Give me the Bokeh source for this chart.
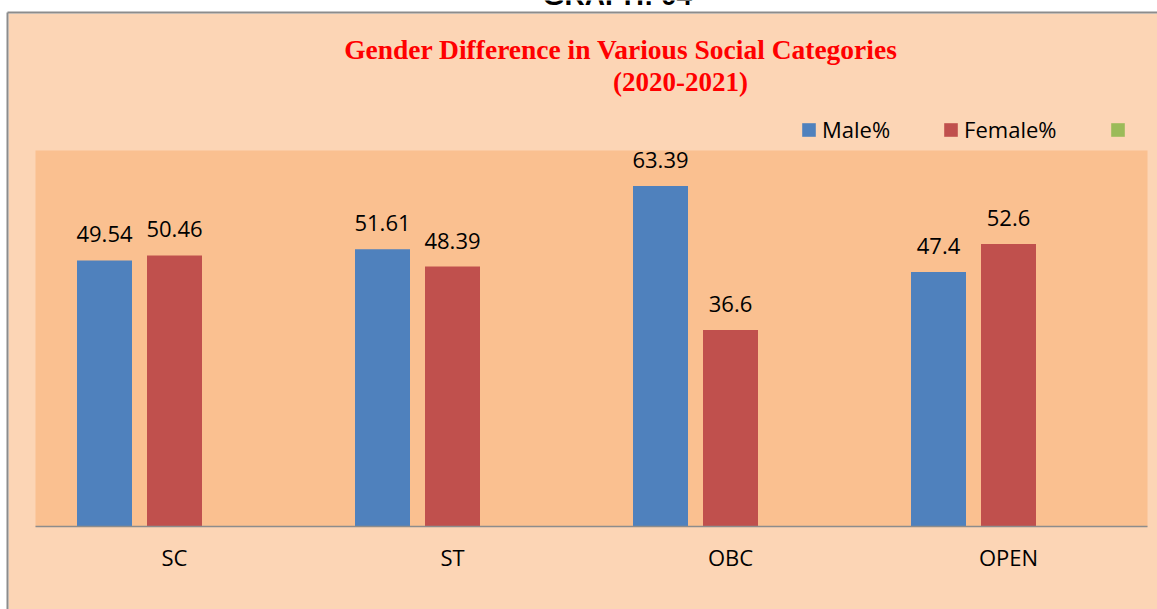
from bokeh.plotting import figure
from bokeh.models import (ColumnDataSource, Range1d, FixedTicker, LabelSet, Label,
                          Legend, LegendItem)
from bokeh.core.properties import value
from bokeh.embed import file_html
from bokeh.resources import INLINE

nan = float("nan")

# ---------------- data ----------------
categories = ["SC", "ST", "OBC", "OPEN"]
male_pct = [49.54, 51.61, 63.39, 47.4]
female_pct = [50.46, 48.39, 36.6, 52.6]
third_pct = [nan, nan, nan, nan]     # empty third series (shown only in legend)
series_names = ["Male%", "Female%", " "]
y_max = 70

# ---------------- layout (px, page coordinates) ----------------
FIG_W, FIG_H = 1157, 609
PX_PER_CAT = 278.0
INNER_LEFT_PX, INNER_RIGHT_PX = 35.0, 1147.0
ZERO_PX, TOP_PX = 526.0, 150.0
CHART_LEFT_PX, CHART_TOP_PX = 8.0, 13.0      # outer (peach) chart area
PX_PER_UNIT = (ZERO_PX - TOP_PX) / y_max

n = len(categories)
def px_to_x(px):
    return -0.5 + (px - INNER_LEFT_PX) / PX_PER_CAT
def px_to_y(py):
    return (ZERO_PX - py) / PX_PER_UNIT

x_start, x_end = px_to_x(0), px_to_x(FIG_W)
y_start, y_end = px_to_y(FIG_H), px_to_y(0)

BLUE, RED, GREEN = "#4F81BD", "#C0504D", "#9BBB59"
OUTER, INNER = "#FCD5B5", "#FAC090"
FONT = "Open Sans"

p = figure(width=FIG_W, height=FIG_H, x_range=Range1d(x_start, x_end),
           y_range=Range1d(y_start, y_end), y_axis_location=None,
           toolbar_location=None, output_backend="svg", title=None,
           min_border_left=0, min_border_right=0,
           min_border_top=0, min_border_bottom=0,
           background_fill_color="white", border_fill_color="white",
           outline_line_color=None)
p.xgrid.visible = False
p.ygrid.visible = False

# outer chart area + border
cl, ct = px_to_x(CHART_LEFT_PX), px_to_y(CHART_TOP_PX)
p.quad(left=[cl], right=[x_end], bottom=[y_start], top=[ct],
       fill_color=OUTER, line_color=None)
bx, by = px_to_x(CHART_LEFT_PX - 1), px_to_y(CHART_TOP_PX - 1)
p.segment(x0=[bx, bx], y0=[y_start, by], x1=[bx, x_end], y1=[by, by],
          line_color="#8c8c8c", line_width=2)

# inner plot area
p.quad(left=[-0.5], right=[n - 0.5], bottom=[0], top=[y_max],
       fill_color=INNER, line_color=None)

# bars
idx = list(range(n))
offset = 70.0 / PX_PER_CAT
bw = 55.0 / PX_PER_CAT
male_src = ColumnDataSource(dict(x=[i - offset for i in idx], top=male_pct,
                                 lbl=[str(v) for v in male_pct]))
fem_src = ColumnDataSource(dict(x=[i for i in idx], top=female_pct,
                                lbl=[str(v) for v in female_pct]))
third_src = ColumnDataSource(dict(x=[i + offset for i in idx], top=third_pct))

r_m = p.vbar(x="x", top="top", bottom=0, width=bw, source=male_src,
             fill_color=BLUE, line_color=None)
r_f = p.vbar(x="x", top="top", bottom=0, width=bw, source=fem_src,
             fill_color=RED, line_color=None)
r_t = p.vbar(x="x", top="top", bottom=0, width=bw, source=third_src,
             fill_color=GREEN, line_color=None)

for src in (male_src, fem_src):
    p.add_layout(LabelSet(x="x", y="top", text="lbl", source=src, y_offset=18,
                          text_align="center", text_baseline="alphabetic",
                          text_font=value(FONT), text_font_size="22px",
                          text_color="#000000"))

# axis
ax = p.xaxis[0]
ax.fixed_location = 0
ax.bounds = (-0.5, n - 0.5)
ax.ticker = FixedTicker(ticks=idx)
ax.major_label_overrides = {i: c for i, c in enumerate(categories)}
ax.major_tick_line_color = None
ax.minor_tick_line_color = None
ax.axis_line_color = "#8c8c8c"
ax.axis_line_width = 1.5
ax.major_label_text_font = FONT
ax.major_label_text_font_size = "22px"
ax.major_label_text_color = "#000000"
ax.major_label_standoff = 9

# legend
legend = Legend(items=[LegendItem(label=series_names[0], renderers=[r_m]),
                       LegendItem(label=series_names[1], renderers=[r_f]),
                       LegendItem(label=series_names[2], renderers=[r_t])],
                orientation="horizontal", location=(800, 465),
                border_line_color=None, background_fill_alpha=0,
                padding=0, margin=0, spacing=52, label_standoff=5,
                glyph_width=17, glyph_height=17,
                label_text_font=FONT, label_text_font_size="22px",
                label_text_color="#000000")
p.add_layout(legend)

# titles
p.add_layout(Label(x=620.5, y=FIG_H - 49, x_units="screen", y_units="screen",
                   text="Gender Difference in Various Social Categories",
                   text_align="center", text_baseline="alphabetic",
                   text_font="Liberation Serif", text_font_style="bold",
                   text_font_size="27.5px", text_color="#FF0000"))
p.add_layout(Label(x=680, y=FIG_H - 81, x_units="screen", y_units="screen",
                   text="(2020-2021)",
                   text_align="center", text_baseline="alphabetic",
                   text_font="Liberation Serif", text_font_style="bold",
                   text_font_size="27px", text_color="#FF0000"))
p.add_layout(Label(x=617, y=FIG_H + 5.5, x_units="screen", y_units="screen",
                   text="GRAPH: 04", text_align="center", text_baseline="alphabetic",
                   text_font="Liberation Sans", text_font_style="bold",
                   text_font_size="28px", text_color="#000000"))

open("out.html", "w").write(file_html(p, INLINE))
